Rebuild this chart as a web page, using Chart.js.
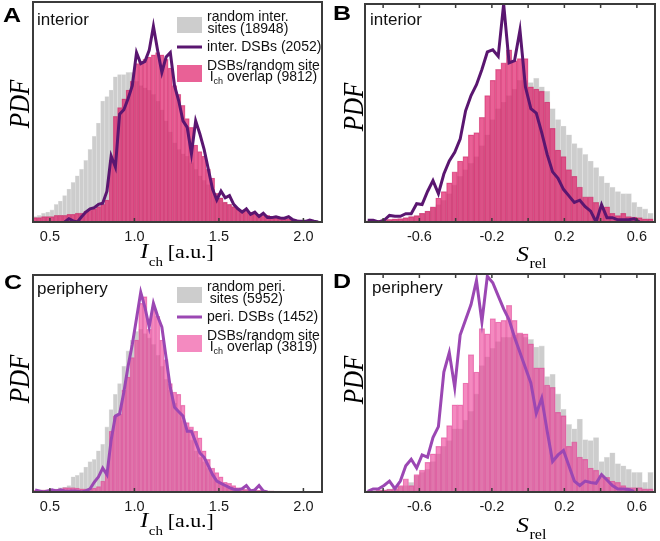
<!DOCTYPE html>
<html>
<head>
<meta charset="utf-8">
<script src="https://cdn.jsdelivr.net/npm/chart.js@4.4.1/dist/chart.umd.min.js"></script>
<style>
  html, body { margin: 0; padding: 0; background: #fff; }
  #fig { position: relative; width: 660px; height: 541px; }
  #fig canvas { position: absolute; }
</style>
</head>
<body>
<div id="fig">
  <canvas id="panelA" width="330" height="270" style="left:0;top:0"></canvas>
  <canvas id="panelB" width="330" height="270" style="left:330px;top:0"></canvas>
  <canvas id="panelC" width="330" height="270" style="left:0;top:270px"></canvas>
  <canvas id="panelD" width="330" height="270" style="left:330px;top:270px"></canvas>
</div>
<script>
// ---- bin centres ----
const binsIch = [
  0.4125, 0.4375, 0.4625, 0.4875, 0.5125, 0.5375, 0.5625, 0.5875, 0.6125, 0.6375,
  0.6625, 0.6875, 0.7125, 0.7375, 0.7625, 0.7875, 0.8125, 0.8375, 0.8625, 0.8875,
  0.9125, 0.9375, 0.9625, 0.9875, 1.0125, 1.0375, 1.0625, 1.0875, 1.1125, 1.1375,
  1.1625, 1.1875, 1.2125, 1.2375, 1.2625, 1.2875, 1.3125, 1.3375, 1.3625, 1.3875,
  1.4125, 1.4375, 1.4625, 1.4875, 1.5125, 1.5375, 1.5625, 1.5875, 1.6125, 1.6375,
  1.6625, 1.6875, 1.7125, 1.7375, 1.7625, 1.7875, 1.8125, 1.8375, 1.8625, 1.8875,
  1.9125, 1.9375, 1.9625, 1.9875, 2.0125, 2.0375, 2.0625, 2.0875
];
const binsSrel = [
  -0.885, -0.855, -0.825, -0.795, -0.765, -0.735, -0.705, -0.675, -0.645, -0.615,
  -0.585, -0.555, -0.525, -0.495, -0.465, -0.435, -0.405, -0.375, -0.345, -0.315,
  -0.285, -0.255, -0.225, -0.195, -0.165, -0.135, -0.105, -0.075, -0.045, -0.015,
  0.015, 0.045, 0.075, 0.105, 0.135, 0.165, 0.195, 0.225, 0.255, 0.285,
  0.315, 0.345, 0.375, 0.405, 0.435, 0.465, 0.495, 0.525, 0.555, 0.585,
  0.615, 0.645, 0.675
];

// ---- tick values / labels ----
const ticksIch = [0.5, 1.0, 1.5, 2.0];
const labelsIch = ["0.5", "1.0", "1.5", "2.0"];
const ticksSrel = [-0.8, -0.6, -0.4, -0.2, 0, 0.2, 0.4, 0.6];
const labelsSrel = ["", "-0.6", "", "-0.2", "", "0.2", "", "0.6"];

// ---- A: interior, chromatin intensity (PDF, arbitrary units) ----
const randomInterIch = [
  2.5, 3, 4, 4.5, 5.5, 8, 9.5, 12, 15, 18,
  21, 24, 28, 33, 39, 45, 55, 57, 60, 66,
  67, 67, 68, 68, 64, 62, 61, 60, 58, 55,
  51, 46, 41, 36, 33, 31, 30, 27, 24, 21,
  19, 17, 15, 13, 11, 9, 8, 7, 6, 5,
  4.5, 4, 3.5, 3, 2.5, 2.2, 2, 1.8, 1.5, 1.3,
  1.1, 1, 0.8, 0.7, 0.6, 0.5, 0.4, 0.3
];
const overlapInterIch = [
  2, 2, 2.5, 2.5, 2.5, 3, 3, 3, 3.5, 3.5,
  4, 4, 5, 5.5, 6, 7, 8, 10, 28, 48,
  52, 56, 60, 64, 72, 73, 74, 75, 76, 77,
  76, 74, 70, 62, 58, 53, 47, 43, 35, 32,
  30, 24, 20, 13, 11, 9, 8, 7, 6, 5.5,
  5, 4.5, 4, 3.5, 3, 3, 2.5, 2, 2, 1.5,
  1.5, 1, 1, 0.8, 0.6, 0.5, 0.4, 0.3
];
const dsbInterIch = [
  null, null, null, null, null, null, null, 0, 1.5, 0.5,
  0, 2.4, 4.5, 6, 6.5, 8, 8.5, 14, 30, 25,
  49, 51, 56, 62, 77, 72, 73, 78, 89, 78,
  68, 75, 77, 62, 55, 46, 43, 31, 46, 40,
  33, 24, 15, 10, 14, 11, 12, 8, 6, 4.5,
  6, 3.5, 4.5, 2.5, 4, 2, 2, 2.4, 1.8, 1.7,
  2.4, 1, 0.5, 0.3, 0.3, 0.9, 0.4, 0
];

// ---- B: interior, relative position ----
const randomInterSrel = [
  0.3, 0.4, 0.5, 0.7, 1, 1.2, 1.5, 2, 2.5, 3,
  4, 5, 6.5, 8, 10, 13, 17, 21, 24, 27,
  30, 35, 40, 47, 52, 55, 58, 61, 65, 65,
  64, 66, 62, 60, 52, 47, 44, 40, 36, 34,
  31, 28, 25, 21, 18, 16, 14, 13, 13, 9,
  7, 6, 4
];
const overlapInterSrel = [
  0.5, 0.5, 0.8, 1, 1.2, 1.5, 1.6, 2, 2.5, 3,
  4, 5, 7, 11, 14, 18, 23, 28, 30, 40,
  41, 48, 58, 65, 70, 73, 79, 74, 75, 75,
  62, 61, 60, 55, 43, 33, 30, 24, 21, 16,
  11.5, 11.5, 9, 6, 7, 4, 3, 4, 2.5, 2.3,
  2, 1.5, 1.5
];
const dsbInterSrel = [
  0.8, 0.8, 0, 0.8, 3, 2.6, 2.6, 3.8, 3.8, 8.4,
  8, 14, 19, 13, 22, 28, 32, 38, 51, 58,
  63, 70, 78, 79, 76, 100, 73, 74, 88, 62,
  52, 50, 41, 31, 23, 20, 15, 12, 9, 10,
  7, 5, 0, 8, 2, 2, 1, 1, 1, 1.5,
  0, null, null
];

// ---- C: periphery, chromatin intensity ----
const randomPeriIch = [
  0.5, 0.6, 0.8, 1, 1.2, 1.5, 2, 2.3, 3, 7,
  7.7, 9, 11.5, 14, 15, 19, 22, 30, 38, 45,
  50, 58, 65, 70, 74, 75, 73, 71, 68, 63,
  58, 52, 47, 41, 37, 33, 28, 24, 19, 16,
  14, 11, 8, 5, 4, 3, 2.2, 2, 1.6, 1.3,
  1.1, 1, 0.8, 0.7, 0.6, 0.5, 0.4, 0.3, 0.3, 0.2,
  0.2, 0.2, 0.1, 0.1, 0.1, 0.1, 0.1, 0.1
];
const overlapPeriIch = [
  0.8, 0.8, 1, 1, 1.2, 1.2, 1.5, 2, 2, 2,
  1.8, 1.5, 1.5, 1.5, 1.8, 2.5, 5, 10, 28, 35,
  36, 47, 53, 62, 70, 87, 90, 75, 85, 81,
  70, 61, 50, 46, 45, 40, 32, 30, 28, 25,
  19, 15, 11, 9, 7, 4.5, 4, 3, 2, 1.5,
  1.2, 1, 0.8, 0.8, 0.6, 0.5, 0.5, 0.4, 0.4, 0.3,
  0.3, 0.3, 0.2, 0.2, 0.2, 0.2, 0.2, 0.2
];
const dsbPeriIch = [
  1, 0.5, 0, 0.5, 1, 0.5, 1, 0.5, 0.3, 0.5,
  0.3, 0, 0.5, 1.5, 4.5, 7, 11, 8, 24, 35,
  36, 46, 58, 68, 80, 92, 85, 76, 87, 81,
  76, 62, 48, 39, 37, 35, 28, 28, 23, 18,
  16, 12, 8, 5, 4, 3, 2, 1.3, 1, 1.5,
  3, 0.5, 1, 3, 0.5, 0, null, null, null, null,
  null, null, null, null, null, null, null, null
];

// ---- D: periphery, relative position ----
const randomPeriSrel = [
  0.3, 0.5, 0.8, 1, 1.5, 2, 2.5, 3, 4.4, 7.5,
  9, 10.5, 14, 17.5, 21, 23.6, 29, 29, 33, 37,
  45, 58, 62, 66, 69, 71, 71, 72, 72.6, 71,
  70, 66.5, 67, 53, 54, 45, 38, 31, 29, 33.5,
  24, 23.6, 25, 14, 16, 18, 13, 12, 10.5, 9,
  9, 4.4, 9
];
const overlapPeriSrel = [
  0.5, 0.5, 0.8, 1, 1.2, 1.4, 3, 6, 3, 8,
  10, 13.6, 17.5, 21, 25, 30.5, 40, 40, 50, 63,
  55, 75, 72.6, 79.5, 78, 78.7, 85.6, 78.7, 73, 72.6,
  68, 57, 57, 49, 48, 36.6, 35, 21, 23, 16,
  15, 11, 10, 7.5, 6.7, 5, 4.4, 3, 2, 2,
  2, 1.4, 1.4
];
const dsbPeriSrel = [
  0.3, 1.4, 1.5, 3, 5, 1.5, 5, 12, 15, 11,
  17, 16, 25, 30, 55, 64, 48, 72, 79, 86,
  97, 78, 99, 96, 90, 84, 79, 71, 64, 57,
  50, 36, 43, 28, 14, 17, 19, 12, 5, 3,
  5, 4.4, 4, 8, 5.5, 3, 1.4, 1.4, 1.2, 0.3,
  null, null, null
];

const SANS = '"Liberation Sans", Arial, Helvetica, sans-serif';
const SERIF = '"Liberation Serif", "Times New Roman", serif';
const FRAME = "#3b3b3b";
const GRAY = "#cdcdcd";
const STRETCH = 1.15;

// draw a string that may contain _{sub} parts
function drawRich(ctx, str, x, y, f) {
  const parts = str.split(/_\{([^}]*)\}/)
    .map((t, i) => ({ t, sub: i % 2 === 1 }))
    .filter(p => p.t);
  const fontOf = p => p.sub ? `${f.subSize}px ${f.family}` : `${f.style || ""} ${f.size}px ${f.family}`;
  let w = 0;
  ctx.save();
  parts.forEach(p => { ctx.font = fontOf(p); p.w = ctx.measureText(p.t).width; w += p.w; });
  const sx = f.sx || 1;
  const x0 = f.align === "center" ? x - (w * sx) / 2 : x;
  ctx.translate(x0, y);
  ctx.scale(sx, 1);
  ctx.textAlign = "left";
  ctx.textBaseline = "alphabetic";
  ctx.fillStyle = f.color || "#111";
  let px = 0;
  parts.forEach(p => {
    ctx.font = fontOf(p);
    ctx.fillText(p.t, px, p.sub ? f.subDy : 0);
    px += p.w;
  });
  ctx.restore();
  return w * sx;
}

function measureRich(ctx, str, f) {
  const parts = str.split(/_\{([^}]*)\}/).map((t, i) => ({ t, sub: i % 2 === 1 })).filter(p => p.t);
  let w = 0;
  ctx.save();
  parts.forEach(p => {
    ctx.font = p.sub ? `${f.subSize}px ${f.family}` : `${f.size}px ${f.family}`;
    w += ctx.measureText(p.t).width;
  });
  ctx.restore();
  return w;
}

const panelDecor = {
  id: "panelDecor",
  afterDraw(chart, args, o) {
    const { ctx, chartArea: a } = chart;
    const xs = chart.scales.x;
    ctx.save();

    // frame
    ctx.strokeStyle = FRAME;
    ctx.lineWidth = 2;
    ctx.strokeRect(a.left, a.top, a.right - a.left, a.bottom - a.top);

    // inward tick marks
    ctx.lineWidth = 1.5;
    ctx.beginPath();
    xs.ticks.forEach(t => {
      const px = xs.getPixelForValue(t.value);
      ctx.moveTo(px, a.bottom);
      ctx.lineTo(px, a.bottom - 4);
      if (o.topTicks) {
        ctx.moveTo(px, a.top);
        ctx.lineTo(px, a.top + 4);
      }
    });
    ctx.stroke();

    // panel letter + region
    drawRich(ctx, o.letter, o.letterPos[0], o.letterPos[1], { size: 20, family: SANS, style: "bold", sx: 1.25, color: "#000" });
    drawRich(ctx, o.region, o.regionPos[0], o.regionPos[1], { size: 17, family: SANS, color: "#111" });

    // y title
    ctx.save();
    ctx.translate(o.yTitlePos[0], o.yTitlePos[1]);
    ctx.rotate(-Math.PI / 2);
    ctx.scale(1, STRETCH);
    ctx.font = `italic 25px ${SERIF}`;
    ctx.textAlign = "center";
    ctx.fillStyle = "#000";
    ctx.fillText("PDF", 0, 0);
    ctx.restore();

    // x title
    const t = o.xTitle;
    ctx.save();
    ctx.font = `italic ${t.size}px ${SERIF}`;
    const w1 = ctx.measureText(t.main).width;
    ctx.font = `${t.subSize}px ${SERIF}`;
    const w2 = ctx.measureText(t.sub).width;
    ctx.font = `${t.unitSize}px ${SERIF}`;
    const w3 = ctx.measureText(t.unit).width;
    const total = (w1 + w2 + w3) * STRETCH;
    ctx.translate(o.xTitlePos[0] - total / 2, o.xTitlePos[1]);
    ctx.scale(STRETCH, 1);
    ctx.fillStyle = "#000";
    ctx.font = `italic ${t.size}px ${SERIF}`;
    ctx.fillText(t.main, 0, 0);
    ctx.font = `${t.subSize}px ${SERIF}`;
    ctx.fillText(t.sub, w1 + 0.5, t.subDy);
    ctx.font = `${t.unitSize}px ${SERIF}`;
    ctx.fillText(t.unit, w1 + w2, 0);
    ctx.restore();

    // legend (random sites, DSBs, overlap)
    if (o.legend) {
      const ds = chart.data.datasets;
      const order = [2, 0, 1];
      const rows = [
        { kind: "box", top: 17, h: 16, base: [21, 32.5] },
        { kind: "line", y: 47, base: [51] },
        { kind: "box", top: 65, h: 17, base: [69.5, 81] }
      ];
      const lf = { size: 14, subSize: 9, subDy: 3, family: SANS, color: "#111" };
      order.forEach((di, r) => {
        const d = ds[di], row = rows[r];
        if (row.kind === "box") {
          ctx.fillStyle = d.backgroundColor;
          ctx.fillRect(177, row.top, 25, row.h);
        } else {
          ctx.strokeStyle = d.borderColor;
          ctx.lineWidth = 3;
          ctx.beginPath();
          ctx.moveTo(177, row.y);
          ctx.lineTo(202, row.y);
          ctx.stroke();
        }
        const lines = d.label.split("\n");
        const maxW = Math.max(...lines.map(s => measureRich(ctx, s, lf)));
        lines.forEach((s, k) => {
          drawRich(ctx, s, 207 + maxW / 2, row.base[k], Object.assign({ align: "center" }, lf));
        });
      });
    }
    ctx.restore();
  }
};

const toPoints = (xs, ys) => xs.map((x, i) => ({ x, y: ys[i] }));

function makePanel(id, p) {
  const ctx = document.getElementById(id).getContext("2d");
  return new Chart(ctx, {
    type: "bar",
    data: {
      datasets: [
        {
          type: "line",
          label: p.labels[1],
          data: toPoints(p.bins, p.line),
          borderColor: p.lineColor,
          borderWidth: 3,
          pointRadius: 0,
          tension: 0,
          spanGaps: false,
          order: 0
        },
        {
          label: p.labels[2],
          data: toPoints(p.bins, p.overlap),
          backgroundColor: p.pinkFill,
          borderColor: p.pinkEdge,
          borderWidth: 0.6,
          grouped: false,
          barPercentage: 1,
          categoryPercentage: 1,
          order: 1
        },
        {
          label: p.labels[0],
          data: toPoints(p.bins, p.random),
          backgroundColor: GRAY,
          borderColor: "#e4e4e4",
          borderWidth: 0.6,
          grouped: false,
          barPercentage: 1,
          categoryPercentage: 1,
          order: 2
        }
      ]
    },
    options: {
      responsive: false,
      animation: false,
      devicePixelRatio: 1,
      events: [],
      layout: { padding: p.padding },
      scales: {
        x: {
          type: "linear",
          min: p.xMin,
          max: p.xMax,
          offset: false,
          grid: { display: false },
          border: { display: false },
          ticks: {
            autoSkip: false,
            maxRotation: 0,
            padding: -2,
            color: "#1a1a1a",
            font: { family: SANS, size: 14.5 },
            callback: (v, i) => p.tickLabels[i]
          },
          afterBuildTicks: s => { s.ticks = p.ticks.map(v => ({ value: v })); },
          afterFit: s => { s.height = 48; }
        },
        y: { display: false, min: 0, max: 100 }
      },
      plugins: {
        legend: { display: false },
        tooltip: { enabled: false },
        panelDecor: p.decor
      }
    },
    plugins: [panelDecor]
  });
}

const titleIch = { main: "I", sub: "ch", unit: " [a.u.]", size: 21, subSize: 13, subDy: 8, unitSize: 19 };
const titleSrel = { main: "S", sub: "rel", unit: "", size: 22, subSize: 14, subDy: 7, unitSize: 19 };

const pinkInter = "rgba(224, 30, 105, 0.7)";
const pinkPeri = "rgba(236, 60, 150, 0.6)";

makePanel("panelA", {
  bins: binsIch, random: randomInterIch, overlap: overlapInterIch, line: dsbInterIch,
  labels: ["random inter.\nsites (18948)", "inter. DSBs (2052)", "DSBs/random site\nI_{ch} overlap (9812)"],
  lineColor: "#5a1670", pinkFill: pinkInter, pinkEdge: "rgba(190, 20, 85, 0.5)",
  xMin: 0.4, xMax: 2.11, ticks: ticksIch, tickLabels: labelsIch,
  padding: { left: 33, top: 2, right: 8, bottom: 0 },
  decor: { letter: "A", letterPos: [3, 22], region: "interior", regionPos: [37, 25],
           yTitlePos: [29, 104], xTitle: titleIch, xTitlePos: [177, 258], legend: true, topTicks: false }
});

makePanel("panelB", {
  bins: binsSrel, random: randomInterSrel, overlap: overlapInterSrel, line: dsbInterSrel,
  labels: ["random inter. sites", "inter. DSBs", "overlap"],
  lineColor: "#5a1670", pinkFill: pinkInter, pinkEdge: "rgba(190, 20, 85, 0.5)",
  xMin: -0.9, xMax: 0.7, ticks: ticksSrel, tickLabels: labelsSrel,
  padding: { left: 35, top: 4, right: 5, bottom: 0 },
  decor: { letter: "B", letterPos: [3, 20], region: "interior", regionPos: [40, 25],
           yTitlePos: [33, 107], xTitle: titleSrel, xTitlePos: [201, 261], legend: false, topTicks: true }
});

makePanel("panelC", {
  bins: binsIch, random: randomPeriIch, overlap: overlapPeriIch, line: dsbPeriIch,
  labels: ["random peri.\nsites (5952)", "peri. DSBs (1452)", "DSBs/random site\nI_{ch} overlap (3819)"],
  lineColor: "#9b47b3", pinkFill: pinkPeri, pinkEdge: "rgba(210, 40, 130, 0.45)",
  xMin: 0.4, xMax: 2.11, ticks: ticksIch, tickLabels: labelsIch,
  padding: { left: 33, top: 5, right: 8, bottom: 0 },
  decor: { letter: "C", letterPos: [4, 19], region: "periphery", regionPos: [37, 24],
           yTitlePos: [29, 109], xTitle: titleIch, xTitlePos: [177, 257], legend: true, topTicks: false }
});

makePanel("panelD", {
  bins: binsSrel, random: randomPeriSrel, overlap: overlapPeriSrel, line: dsbPeriSrel,
  labels: ["random peri. sites", "peri. DSBs", "overlap"],
  lineColor: "#9b47b3", pinkFill: pinkPeri, pinkEdge: "rgba(210, 40, 130, 0.45)",
  xMin: -0.9, xMax: 0.7, ticks: ticksSrel, tickLabels: labelsSrel,
  padding: { left: 35, top: 4, right: 5, bottom: 0 },
  decor: { letter: "D", letterPos: [3, 18], region: "periphery", regionPos: [42, 23],
           yTitlePos: [33, 110], xTitle: titleSrel, xTitlePos: [201, 262], legend: false, topTicks: true }
});
</script>
</body>
</html>
